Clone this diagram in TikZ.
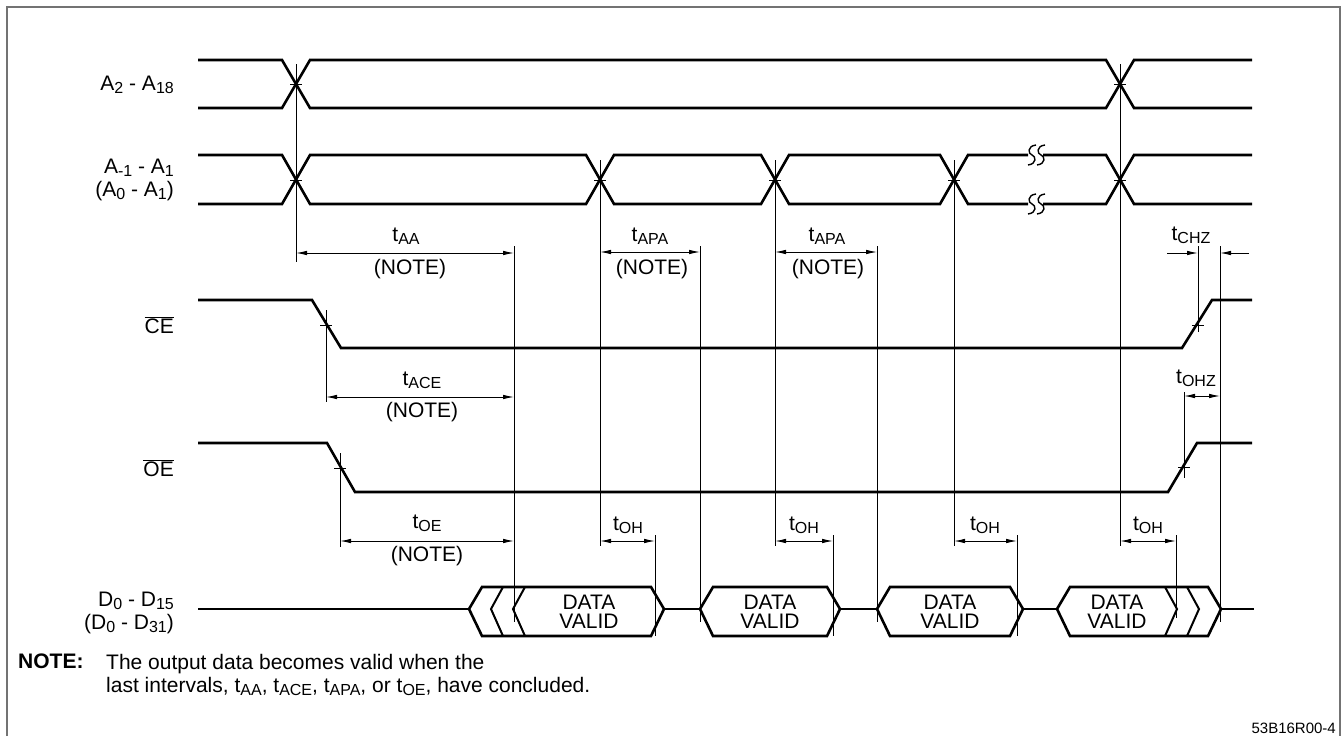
\documentclass[tikz,border=0pt]{standalone}
\usepackage{fontspec}
\setmainfont{Liberation Sans}
\usetikzlibrary{arrows.meta,positioning,calc}
\tikzset{
  sigline/.style={line width=2.6pt, line join=miter},
  refline/.style={line width=0.9pt},
  dimarr/.style={line width=0.9pt, {Latex[length=11pt,width=4.5pt]}-{Latex[length=11pt,width=4.5pt]}},
  inarr/.style={line width=0.9pt, -{Latex[length=11pt,width=4.5pt]}},
  siglabel/.style={anchor=east, align=right, inner sep=0pt},
}
\newcommand{\lo}[1]{\raisebox{-0.3ex}{\fontsize{16}{16}\selectfont #1}}

\begin{document}
\begin{tikzpicture}[
  x=1pt, y=-1pt,
  font=\fontsize{21}{23}\selectfont,
  dimtext/.style={inner sep=0pt, align=center},
  validtext/.style={inner sep=0pt, align=center, font=\fontsize{21}{19}\selectfont},
]
  \useasboundingbox (0,0) rectangle (1343,736);
  \draw[line width=1.6pt, black!55] (7,736) -- (7,7) -- (1340,7) -- (1340,736);

  % signal names
  \node[siglabel] (lblA) at (174,85) {A\lo{2} - A\lo{18}};
  \node[siglabel] (lblAlo) at (174,180) {A\lo{-1} - A\lo{1}\\(A\lo{0} - A\lo{1})};
  \node[siglabel] (lblCE) at (174,325) {$\overline{\mbox{CE}}$};
  \node[siglabel] (lblOE) at (174,468) {$\overline{\mbox{OE}}$};
  \node[siglabel] (lblD) at (174,613) {D\lo{0} - D\lo{15}\\(D\lo{0} - D\lo{31})};

  % address busses
  \draw[sigline] (198,60) -- (282,60) -- (310,108) -- (1106,108) -- (1134,60) -- (1252,60);
  \draw[sigline] (198,108) -- (282,108) -- (310,60) -- (1106,60) -- (1134,108) -- (1252,108);
  \draw[sigline] (198,155) -- (282,155) -- (310,204) -- (586,204) -- (614,155) -- (761,155)
    -- (789,204) -- (940,204) -- (968,155) -- (1028,155);
  \draw[sigline] (1043,155) -- (1106,155) -- (1134,204) -- (1252,204);
  \draw[sigline] (198,204) -- (282,204) -- (310,155) -- (586,155) -- (614,204) -- (761,204)
    -- (789,155) -- (940,155) -- (968,204) -- (1028,204);
  \draw[sigline] (1043,204) -- (1106,204) -- (1134,155) -- (1252,155);
  \foreach \y in {155,204}
    \foreach \x in {1032,1041}
      \draw[line width=1.4pt] (\x+4,\y-10) .. controls (\x-5,\y-9) and (\x-4,\y-1) .. (\x,\y)
        .. controls (\x+4,\y+1) and (\x+5,\y+9) .. (\x-4,\y+10);

  % CE and OE
  \draw[sigline] (198,300) -- (312,300) -- (341,348) -- (1182,348) -- (1212,300) -- (1252,300);
  \draw[sigline] (198,443) -- (327,443) -- (355,492) -- (1168,492) -- (1197,443) -- (1252,443);

  % data bus
  \draw[sigline] (198,609) -- (469,609);
  \foreach \l/\r in {469/664, 700/840, 877/1023, 1057/1221}
    \draw[sigline] (\l,609) -- (\l+13,587) -- (\r-13,587) -- (\r,609) -- (\r-13,636) -- (\l+13,636) -- cycle;
  \draw[sigline] (664,609) -- (700,609);
  \draw[sigline] (840,609) -- (877,609);
  \draw[sigline] (1023,609) -- (1057,609);
  \draw[sigline] (1221,609) -- (1254,609);
  \foreach \t in {491,513}
    \draw[line width=2pt] (\t+12,587) -- (\t,609) -- (\t+12,636);
  \foreach \t in {1177,1199}
    \draw[line width=2pt] (\t-12,587) -- (\t,609) -- (\t-12,636);
  \node[validtext] (dv1) at (589,612) {DATA\\VALID};
  \node[validtext] (dv2) at (770,612) {DATA\\VALID};
  \node[validtext] (dv3) at (950,612) {DATA\\VALID};
  \node[validtext] (dv4) at (1117,612) {DATA\\VALID};

  % reference lines
  \draw[refline] (296,64) -- (296,262);
  \foreach \x in {600,775,954}
    \draw[refline] (\x,160) -- (\x,546);
  \draw[refline] (1120,64) -- (1120,546);
  \foreach \x in {514,700,877}
    \draw[refline] (\x,246) -- (\x,622);
  \draw[refline] (1220,246) -- (1220,622);
  \draw[refline] (326,310) -- (326,402);
  \draw[refline] (1198,246) -- (1198,332);
  \draw[refline] (340,453) -- (340,547);
  \draw[refline] (1184,392) -- (1184,478);
  \foreach \x in {655,833,1017}
    \draw[refline] (\x,535) -- (\x,636);
  \draw[refline] (1176,535) -- (1176,618);
  % crossing ticks
  \foreach \x/\y in {296/84, 1120/84, 296/180, 600/180, 775/180, 954/180, 1120/180,
                     326/325, 1198/325, 340/468, 1184/467}
    \draw[refline] (\x-6,\y) -- (\x+6,\y);

  % timing points
  \foreach \n/\x/\y in {aa1/296/253, aa2/514/253, apa1/600/252, apa2/700/252,
                        apb1/775/252, apb2/877/252, chz1/1167/253, chz2/1198/253,
                        chz3/1249/253, chz4/1220/253, ace1/326/397, ace2/514/397,
                        ohz1/1184/396, ohz2/1220/396, oe1/340/541, oe2/514/541,
                        oha1/600/541, oha2/655/541, ohb1/775/541, ohb2/833/541,
                        ohc1/954/541, ohc2/1017/541, ohd1/1120/541, ohd2/1176/541}
    \coordinate (\n) at (\x,\y);

  \draw[dimarr] (aa1) -- (aa2);
  \draw[dimarr] (apa1) -- (apa2);
  \draw[dimarr] (apb1) -- (apb2);
  \draw[inarr] (chz1) -- (chz2);
  \draw[inarr] (chz3) -- (chz4);
  \draw[dimarr] (ace1) -- (ace2);
  \draw[dimarr] (ohz1) -- (ohz2);
  \draw[dimarr] (oe1) -- (oe2);
  \draw[dimarr] (oha1) -- (oha2);
  \draw[dimarr] (ohb1) -- (ohb2);
  \draw[dimarr] (ohc1) -- (ohc2);
  \draw[dimarr] (ohd1) -- (ohd2);

  % timing names
  \node[dimtext] (taa) at (406,236) {t\lo{AA}};
  \node[dimtext] (naa) at (410,269) {(NOTE)};
  \node[dimtext] (tapa) at (650,236) {t\lo{APA}};
  \node[dimtext] (napa) at (652,269) {(NOTE)};
  \node[dimtext] (tapb) at (827,236) {t\lo{APA}};
  \node[dimtext] (napb) at (828,269) {(NOTE)};
  \node[dimtext] (tchz) at (1191,235) {t\lo{CHZ}};
  \node[dimtext] (tace) at (422,380) {t\lo{ACE}};
  \node[dimtext] (nace) at (422,412) {(NOTE)};
  \node[dimtext] (tohz) at (1196,378) {t\lo{OHZ}};
  \node[dimtext] (toe) at (427,523) {t\lo{OE}};
  \node[dimtext] (noe) at (427,556) {(NOTE)};
  \node[dimtext] (toha) at (628,525) {t\lo{OH}};
  \node[dimtext] (tohb) at (804,525) {t\lo{OH}};
  \node[dimtext] (tohc) at (985,525) {t\lo{OH}};
  \node[dimtext] (tohd) at (1148,525) {t\lo{OH}};

  % note
  \node[anchor=north west, inner sep=0pt] (notelbl) at (18,654) {\textbf{NOTE:}};
  \node[anchor=north west, align=left, inner sep=0pt] (notetxt) at (106,654)
    {The output data becomes valid when the\\
     last intervals, t\lo{AA}, t\lo{ACE}, t\lo{APA}, or t\lo{OE}, have concluded.};
  \node[anchor=south east, inner sep=0pt, font=\fontsize{15}{16}\selectfont] (figid) at (1336,734) {53B16R00-4};
\end{tikzpicture}
\end{document}
